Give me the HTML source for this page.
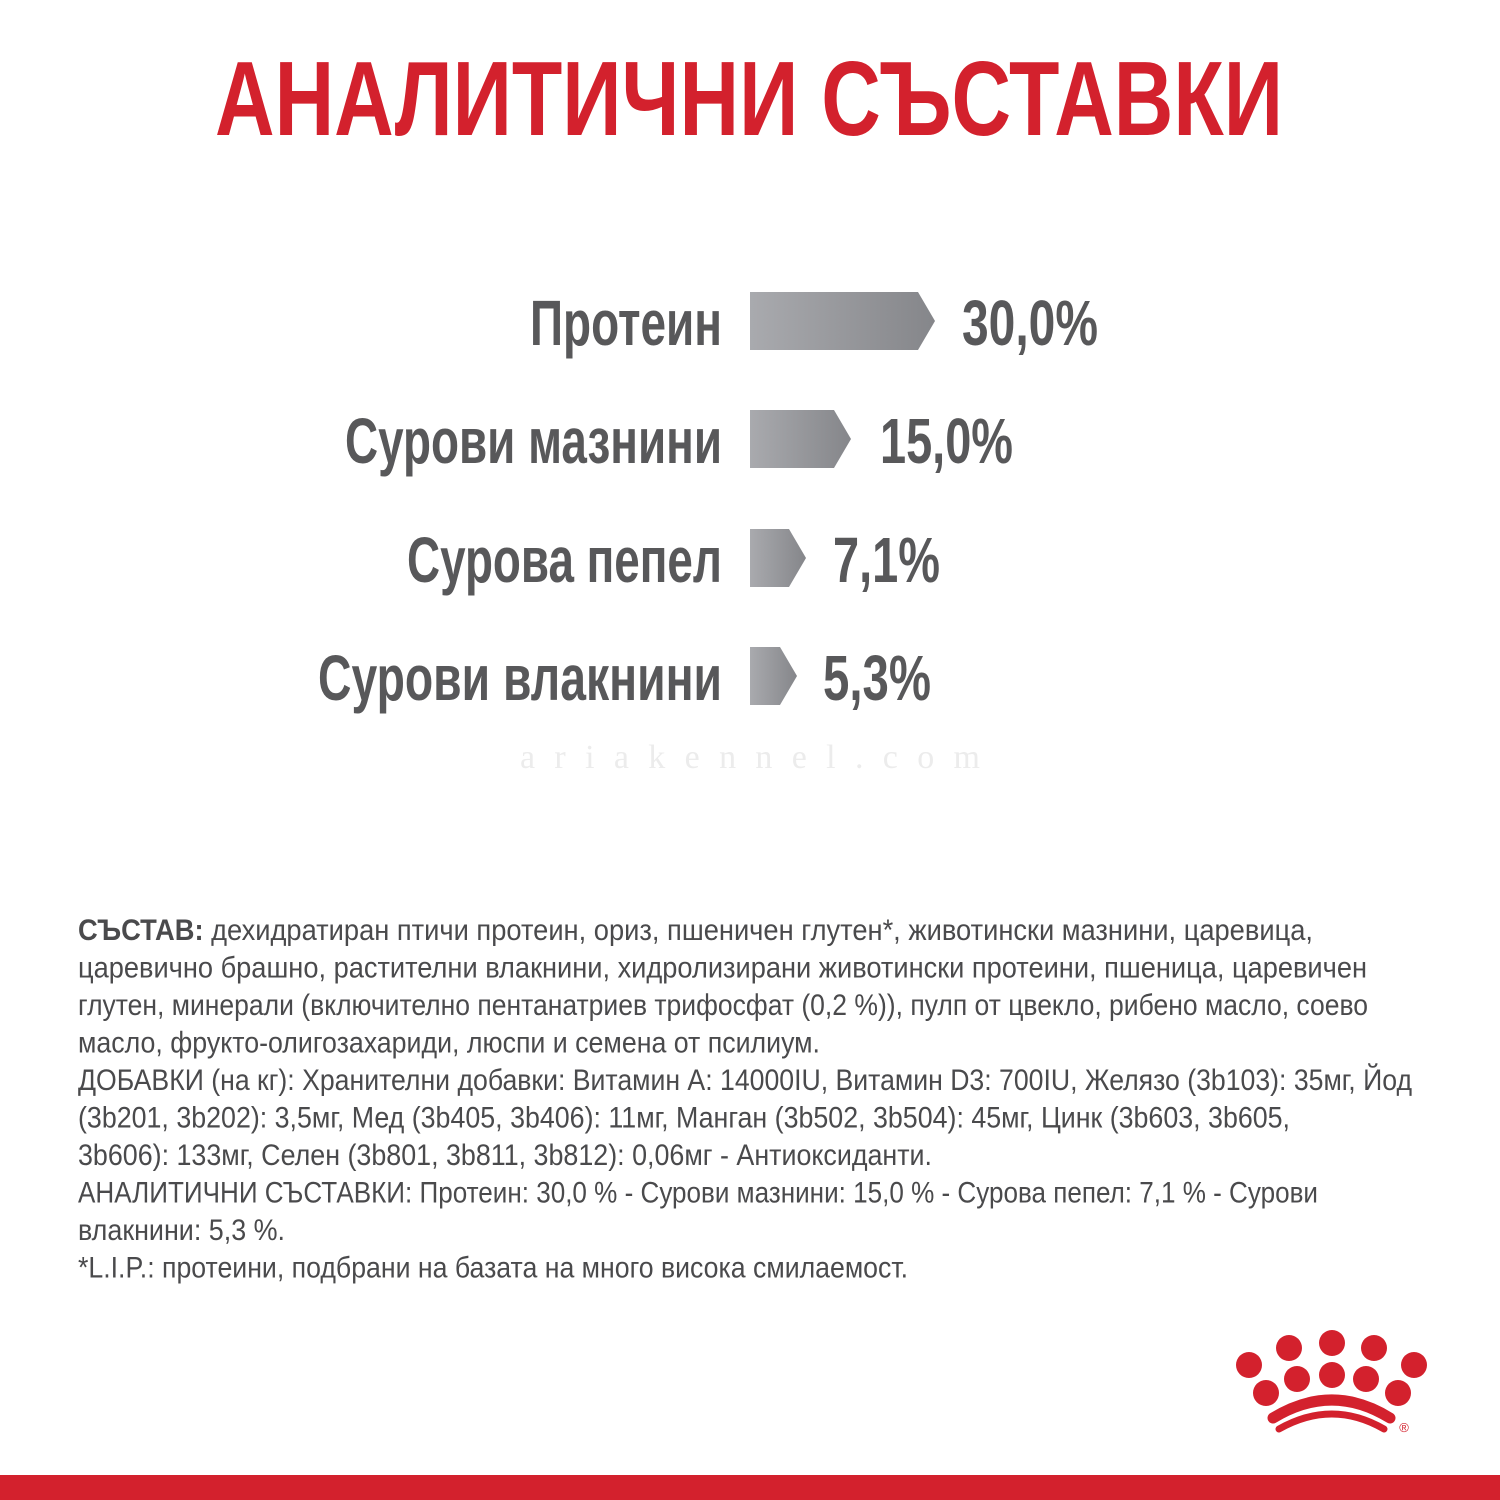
<!DOCTYPE html>
<html><head><meta charset="utf-8"><style>
html,body{margin:0;padding:0;background:#fff;}
svg{display:block;}
</style></head><body>
<svg width="1500" height="1500" viewBox="0 0 1500 1500" xmlns="http://www.w3.org/2000/svg">
<defs>
<linearGradient id="g" x1="0" x2="1" y1="0" y2="0">
<stop offset="0" stop-color="#a9aaae"/><stop offset="1" stop-color="#85868a"/>
</linearGradient>
</defs>
<rect width="1500" height="1500" fill="#fff"/>
<text x="215" y="135" font-family="'Liberation Sans Narrow','Liberation Sans',sans-serif" font-weight="bold" font-size="106" fill="#d3212d" textLength="1068" lengthAdjust="spacingAndGlyphs">АНАЛИТИЧНИ СЪСТАВКИ</text>

<g font-family="'Liberation Sans Narrow','Liberation Sans',sans-serif" font-weight="bold" font-size="64" fill="#58585a">
<text x="530" y="345" textLength="192" lengthAdjust="spacingAndGlyphs">Протеин</text>
<text x="345" y="463" textLength="377" lengthAdjust="spacingAndGlyphs">Сурови мазнини</text>
<text x="407" y="582" textLength="315" lengthAdjust="spacingAndGlyphs">Сурова пепел</text>
<text x="318" y="700" textLength="404" lengthAdjust="spacingAndGlyphs">Сурови влакнини</text>
<text x="962" y="345" textLength="136" lengthAdjust="spacingAndGlyphs">30,0%</text>
<text x="880" y="463" textLength="133" lengthAdjust="spacingAndGlyphs">15,0%</text>
<text x="833" y="582" textLength="107" lengthAdjust="spacingAndGlyphs">7,1%</text>
<text x="823" y="700" textLength="108" lengthAdjust="spacingAndGlyphs">5,3%</text>
</g>
<polygon points="750,292 918,292 935,321 918,350 750,350" fill="url(#g)"/>
<polygon points="750,410 834,410 851,439 834,468 750,468" fill="url(#g)"/>
<polygon points="750,529 789,529 806,558 789,587 750,587" fill="url(#g)"/>
<polygon points="750,647 780,647 797,676 780,705 750,705" fill="url(#g)"/>

<text x="520" y="768" font-family="'Liberation Serif',serif" font-size="34" fill="#ececec" textLength="460" lengthAdjust="spacing">ariakennel.com</text>

<g font-family="'Liberation Sans Narrow','Liberation Sans',sans-serif" font-size="30" fill="#4a4a4c">
<text x="78" y="940" textLength="1235" lengthAdjust="spacingAndGlyphs"><tspan font-weight="bold">СЪСТАВ:</tspan> дехидратиран птичи протеин, ориз, пшеничен глутен*, животински мазнини, царевица,</text>
<text x="78" y="977.5" textLength="1289" lengthAdjust="spacingAndGlyphs">царевично брашно, растителни влакнини, хидролизирани животински протеини, пшеница, царевичен</text>
<text x="78" y="1015" textLength="1290" lengthAdjust="spacingAndGlyphs">глутен, минерали (включително пентанатриев трифосфат (0,2 %)), пулп от цвекло, рибено масло, соево</text>
<text x="78" y="1052.5" textLength="742" lengthAdjust="spacingAndGlyphs">масло, фрукто-олигозахариди, люспи и семена от псилиум.</text>
<text x="78" y="1090" textLength="1334" lengthAdjust="spacingAndGlyphs">ДОБАВКИ (на кг): Хранителни добавки: Витамин А: 14000IU, Витамин D3: 700IU, Желязо (3b103): 35мг, Йод</text>
<text x="78" y="1127.5" textLength="1212" lengthAdjust="spacingAndGlyphs">(3b201, 3b202): 3,5мг, Мед (3b405, 3b406): 11мг, Манган (3b502, 3b504): 45мг, Цинк (3b603, 3b605,</text>
<text x="78" y="1165" textLength="854" lengthAdjust="spacingAndGlyphs">3b606): 133мг, Селен (3b801, 3b811, 3b812): 0,06мг - Антиоксиданти.</text>
<text x="78" y="1202.5" textLength="1240" lengthAdjust="spacingAndGlyphs">АНАЛИТИЧНИ СЪСТАВКИ: Протеин: 30,0 % - Сурови мазнини: 15,0 % - Сурова пепел: 7,1 % - Сурови</text>
<text x="78" y="1240" textLength="207" lengthAdjust="spacingAndGlyphs">влакнини: 5,3 %.</text>
<text x="78" y="1277.5" textLength="830" lengthAdjust="spacingAndGlyphs">*L.I.P.: протеини, подбрани на базата на много висока смилаемост.</text>
</g>

<g fill="#d3212d">
<circle cx="1249" cy="1365" r="13"/>
<circle cx="1289" cy="1348" r="13"/>
<circle cx="1332" cy="1343" r="13"/>
<circle cx="1374" cy="1348" r="13"/>
<circle cx="1414" cy="1365" r="13"/>
<circle cx="1266" cy="1393" r="13"/>
<circle cx="1297" cy="1379" r="13"/>
<circle cx="1332" cy="1375" r="13"/>
<circle cx="1366" cy="1379" r="13"/>
<circle cx="1398" cy="1393" r="13"/>
<path d="M1273,1418 Q1332,1382 1390,1418" fill="none" stroke="#d3212d" stroke-width="11" stroke-linecap="round"/>
<path d="M1279,1429 Q1332,1399 1384,1429" fill="none" stroke="#d3212d" stroke-width="7" stroke-linecap="round"/>
<text x="1404" y="1432" font-family="'Liberation Sans',sans-serif" font-size="13" text-anchor="middle">®</text>
<rect x="0" y="1475" width="1500" height="25"/>
</g>
</svg>
</body></html>
